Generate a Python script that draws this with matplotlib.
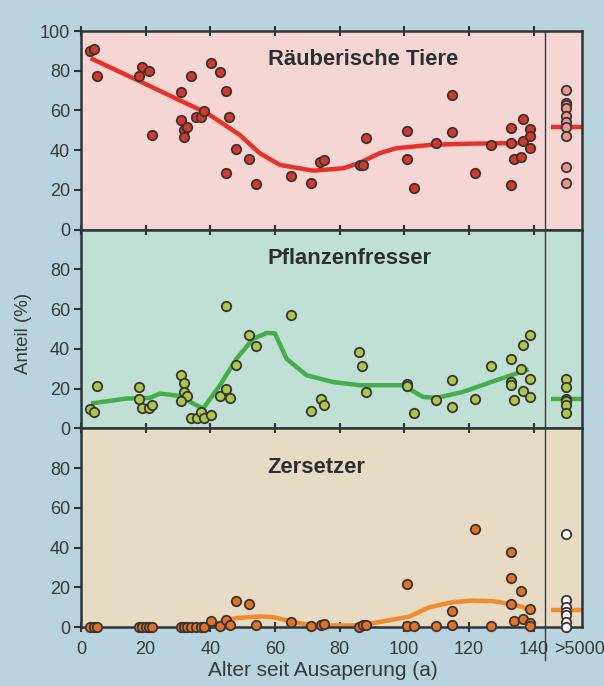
import matplotlib
matplotlib.use("Agg")
import matplotlib.pyplot as plt
from matplotlib.lines import Line2D
from matplotlib.transforms import blended_transform_factory

plt.rcParams['font.family'] = ['Liberation Sans', 'DejaVu Sans']

# ---------------- data ----------------
# Räuberische Tiere (predators)
pred_x = [2.8, 4.0, 5.0, 17.9, 19.0, 20.9, 22.0, 31.0, 31.0, 31.8, 31.9, 32.9, 33.9, 35.7,
          37.0, 38.0, 40.1, 43.0, 45.0, 45.0, 45.9, 48.0, 52.0, 54.1, 64.9, 71.2, 73.9, 75.1,
          86.4, 87.2, 88.1, 100.8, 100.8, 103.0, 109.9, 114.9, 114.9, 121.8, 126.9, 132.9,
          132.9, 132.9, 133.9, 136.0, 136.9, 136.9, 138.9, 138.9, 138.9]
pred_y = [90.0, 90.8, 77.4, 77.4, 81.7, 79.9, 47.8, 69.2, 55.1, 50.0, 46.7, 51.5, 77.4, 56.6,
          56.6, 59.9, 83.7, 79.5, 70.0, 28.6, 56.9, 40.6, 35.8, 23.0, 27.1, 23.5, 33.9, 35.0,
          32.3, 32.3, 46.0, 49.9, 35.8, 20.9, 43.5, 68.0, 49.2, 28.4, 42.5, 51.2,
          43.7, 22.5, 35.6, 36.5, 55.9, 44.8, 50.6, 47.2, 41.3]
pred_old = [70.1, 63.9, 62.7, 61.0, 57.4, 54.4, 51.6, 46.9, 31.7, 23.4]
pred_old_mean = 51.8
pred_line_x = [3.0, 16.2, 36.8, 39.9, 49.1, 55.3, 61.5, 71.8, 81.1, 85.9, 92.4, 97.6, 108.4,
               118.1, 128.5, 138.3]
pred_line_y = [86.3, 76.2, 60.3, 57.7, 47.7, 38.5, 32.6, 29.7, 30.9, 33.4, 38.5, 41.0, 42.7,
               43.2, 43.5, 43.5]

# Pflanzenfresser (herbivores)
herb_x = [2.8, 3.9, 5.0, 17.9, 17.9, 19.0, 20.9, 22.0, 31.0, 31.9, 31.9, 32.9, 31.0, 33.9,
          35.9, 37.0, 38.0, 40.1, 43.0, 45.0, 45.0, 46.0, 48.0, 52.0, 54.1, 65.0, 71.2, 74.1,
          75.1, 86.0, 86.9, 88.1, 100.8, 100.8, 103.0, 109.9, 114.9, 114.9, 121.8, 126.9,
          132.9, 132.9, 132.9, 133.9, 136.0, 136.9, 136.9, 138.9, 138.9, 138.9]
herb_y = [9.5, 8.0, 21.3, 20.7, 14.8, 10.3, 10.3, 11.7, 26.8, 23.0, 18.3, 16.3, 14.0, 5.0,
          5.0, 8.3, 5.0, 6.5, 16.5, 20.0, 61.5, 15.5, 31.8, 47.0, 41.3, 57.2, 8.8, 15.0,
          11.7, 38.5, 31.2, 18.5, 22.5, 21.5, 7.7, 14.3, 24.3, 10.7, 14.8, 31.2,
          34.8, 23.3, 22.0, 14.3, 30.0, 41.7, 18.7, 47.2, 25.0, 15.8]
herb_old = [24.7, 21.0, 15.0, 13.7, 11.7, 7.7]
herb_old_mean = 14.8
herb_line_x = [3.1, 14.1, 21.3, 24.4, 30.6, 34.7, 37.8, 43.0, 48.1, 53.2, 57.4, 60.0, 63.6,
               69.8, 78.0, 86.2, 92.4, 99.6, 105.8, 109.9, 118.1, 128.5, 138.5]
herb_line_y = [12.5, 15.0, 15.3, 17.5, 16.3, 12.5, 10.0, 21.7, 35.0, 45.0, 48.0, 47.8, 35.0,
               26.7, 23.3, 21.7, 21.7, 21.7, 15.8, 15.3, 18.3, 24.2, 29.7]

# Zersetzer (decomposers)
deco_x = [2.8, 3.9, 5.0, 17.9, 19.0, 20.0, 21.0, 22.0, 31.0, 31.9, 32.9, 33.9, 35.7, 37.0,
          38.0, 40.1, 43.0, 45.0, 46.0, 48.0, 52.0, 54.1, 65.0, 71.2, 74.1, 75.1, 86.0, 87.2,
          88.1, 100.8, 100.8, 103.0, 109.9, 114.9, 114.9, 121.8, 126.9, 132.9, 132.9, 132.9,
          133.9, 136.0, 136.9, 138.9, 138.9, 138.9]
deco_y = [0.0, 0.0, 0.0, 0.0, 0.0, 0.0, 0.0, 0.0, 0.0, 0.0, 0.0, 0.0, 0.0, 0.0,
          0.0, 3.2, 0.5, 3.3, 1.0, 13.0, 11.5, 1.2, 2.3, 0.5, 1.2, 1.7, 0.0, 1.2,
          1.2, 21.5, 0.3, 0.3, 0.3, 8.3, 1.0, 49.3, 0.5, 37.8, 24.7, 11.7,
          3.2, 18.0, 3.8, 9.2, 2.0, 0.5]
deco_old = [46.8, 13.5, 10.0, 7.5, 5.8, 2.5, 0.0]
deco_old_mean = 8.7
deco_line_x = [38.0, 40.1, 45.0, 48.0, 55.3, 59.4, 65.6, 71.8, 86.2, 92.4, 101.7, 107.8, 115.0,
               121.2, 127.4, 132.6, 136.7, 138.8]
deco_line_y = [0.3, 0.8, 3.3, 4.5, 5.3, 5.0, 2.5, 0.8, 0.8, 2.5, 5.3, 10.0, 12.5,
               13.3, 13.0, 11.7, 10.0, 8.3]

titles = ["Räuberische Tiere", "Pflanzenfresser", "Zersetzer"]
xticks = [0, 20, 40, 60, 80, 100, 120, 140]
old_label = ">5000"
old_pos = 150
xlabel = "Alter seit Ausaperung (a)"
ylabel = "Anteil (%)"

# ---------------- style ----------------
W, H = 604, 686
fig = plt.figure(figsize=(W / 100, H / 100), dpi=100)
fig.patch.set_facecolor('#b9d4df')

left = 81 / W
right = 582 / W
top_px, bot_px = 31, 627
ph = (bot_px - top_px) / 3

panels = [
    dict(x=pred_x, y=pred_y, old=pred_old, mean=pred_old_mean, lx=pred_line_x, ly=pred_line_y,
         bg='#f6d6d3', fc='#d2392b', oldfc='#e6998b', lc='#e8312a', yt=[0, 20, 40, 60, 80, 100],
         ty=82.9),
    dict(x=herb_x, y=herb_y, old=herb_old, mean=herb_old_mean, lx=herb_line_x, ly=herb_line_y,
         bg='#c1e0d5', fc='#a9c94b', oldfc='#a9c94b', lc='#46ad4d', yt=[0, 20, 40, 60, 80],
         ty=82.6),
    dict(x=deco_x, y=deco_y, old=deco_old, mean=deco_old_mean, lx=deco_line_x, ly=deco_line_y,
         bg='#e7dbc4', fc='#df7429', oldfc='#ffffff', lc='#f38a2e', yt=[0, 20, 40, 60, 80],
         ty=77.3),
]

edge = '#3b3333'
spine_c = '#2f3536'
txt_c = '#353a3c'
axes = []
for i, p in enumerate(panels):
    y0 = 1 - (top_px + (i + 1) * ph) / H
    ax = fig.add_axes([left, y0, right - left, ph / H])
    axes.append(ax)
    ax.set_facecolor(p['bg'])
    ax.set_xlim(0, 155)
    ax.set_ylim(0, 100)
    ax.plot(p['lx'], p['ly'], color=p['lc'], lw=3.2, solid_capstyle='butt', zorder=2,
            clip_on=False)
    ax.scatter(p['x'], p['y'], s=46, c=p['fc'], edgecolors=edge, linewidths=1.3, zorder=3,
               clip_on=False)
    ax.scatter([old_pos] * len(p['old']), p['old'], s=46, c=p['oldfc'], edgecolors=edge,
               linewidths=1.3, zorder=3, clip_on=False)
    ax.plot([145.5, 155], [p['mean'], p['mean']], color=p['lc'], lw=3.2, zorder=2,
            solid_capstyle='butt')
    ax.text(57.8, p['ty'], titles[i], fontsize=15.8, fontweight='bold',
            color='#2b2f31', ha='left', va='baseline')
    ax.set_yticks(p['yt'])
    ax.set_xticks(xticks)
    ax.tick_params(axis='y', direction='out', length=5, width=1.5, color=spine_c,
                   labelsize=13, labelcolor=txt_c, pad=3)
    ax.tick_params(axis='x', direction='inout', length=7, width=1.5, color=spine_c,
                   top=True, bottom=True, labelsize=13, labelcolor=txt_c, pad=6.5)
    for s in ax.spines.values():
        s.set_color(spine_c)
        s.set_linewidth(1.8)
    if i < 2:
        ax.tick_params(axis='x', labelbottom=False)

# >5000 label, aligned with the tick labels
lbl = axes[2].get_xticklabels()[0]
tr = blended_transform_factory(axes[2].transData, fig.transFigure)
axes[2].text(146.3, 1 - 650 / H, old_label, fontsize=13, color=txt_c,
             ha='left', va='center', transform=tr, clip_on=False)

# separator line spanning all panels
sep_x = left + (143.6 / 155) * (right - left)
fig.add_artist(Line2D([sep_x, sep_x], [1 - top_px / H, 1 - 660 / H], color='#3a3a3a',
                      lw=1.0, transform=fig.transFigure))

fig.text(323 / W, 1 - 670 / H, xlabel, fontsize=15, color=txt_c, ha='center',
         va='center')
fig.text(23 / W, 1 - 333 / H, ylabel, fontsize=13.5, color=txt_c, ha='center',
         va='center', rotation=90)

fig.savefig('out.png', dpi=100, facecolor=fig.get_facecolor())
